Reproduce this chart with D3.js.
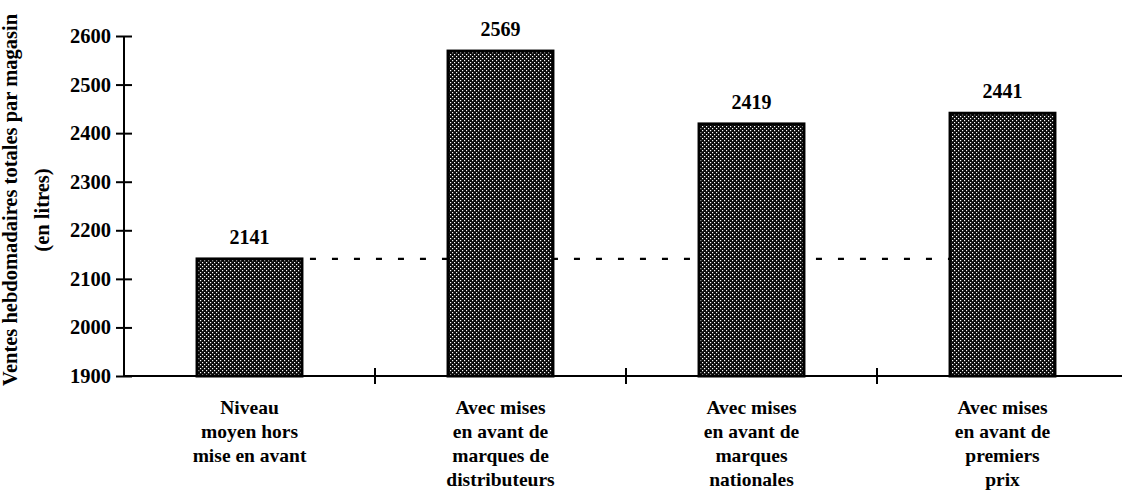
<!DOCTYPE html>
<html>
<head>
<meta charset="utf-8">
<script src="https://cdn.jsdelivr.net/npm/d3@7"></script>
<style>
  html, body { margin: 0; padding: 0; background: #fff; }
  svg { display: block; }
</style>
</head>
<body>
<svg id="chart" width="1122" height="496"></svg>
<script>
// Weekly sales per store (litres) under each promotion scenario
const categories = [
  ["Niveau", "moyen hors", "mise en avant"],
  ["Avec mises", "en avant de", "marques de", "distributeurs"],
  ["Avec mises", "en avant de", "marques", "nationales"],
  ["Avec mises", "en avant de", "premiers", "prix"]
];
const values = [2141, 2569, 2419, 2441];
const yTicks = [1900, 2000, 2100, 2200, 2300, 2400, 2500, 2600];
const baselineValue = values[0];
const yTitle = ["Ventes hebdomadaires totales par magasin", "(en litres)"];

const FONT = "'Liberation Serif', 'Times New Roman', Times, serif";

const svg = d3.select("#chart");
const plotLeft = 124, plotRight = 1128, plotTop = 36, plotBottom = 376;

const keys = categories.map((c, i) => "c" + i);
const x = d3.scaleBand().domain(keys).range([plotLeft, plotRight]).padding(0);
const y = d3.scaleLinear().domain([1900, 2600]).range([plotBottom, plotTop]);
const barW = x.bandwidth() * 0.418;

function label(sel, size) {
  return sel.style("font-family", FONT).style("font-weight", "bold")
    .style("font-size", size + "px").attr("fill", "#000");
}

// dotted screen fill for bars
const defs = svg.append("defs");
const pat = defs.append("pattern")
  .attr("id", "screen")
  .attr("patternUnits", "userSpaceOnUse")
  .attr("width", 4).attr("height", 4);
pat.append("rect").attr("width", 4).attr("height", 4).attr("fill", "#0a0a0a");
pat.append("rect").attr("x", 0).attr("y", 0).attr("width", 1.2).attr("height", 1.2).attr("fill", "#fff");
pat.append("rect").attr("x", 2).attr("y", 2).attr("width", 1.2).attr("height", 1.2).attr("fill", "#fff");

// reference level (no promotion) drawn behind the bars
svg.append("line")
  .attr("x1", x(keys[0]) + x.bandwidth() / 2 + barW / 2 + 8)
  .attr("x2", x(keys[3]) + x.bandwidth() / 2 - barW / 2)
  .attr("y1", y(baselineValue)).attr("y2", y(baselineValue))
  .attr("stroke", "#000").attr("stroke-width", 2.2)
  .attr("stroke-dasharray", "6,16");

// bars
svg.selectAll("rect.bar").data(values).join("rect")
  .attr("class", "bar")
  .attr("x", (d, i) => x(keys[i]) + x.bandwidth() / 2 - barW / 2)
  .attr("y", d => y(d))
  .attr("width", barW)
  .attr("height", d => y(1900) - y(d))
  .attr("fill", "url(#screen)")
  .attr("stroke", "#000").attr("stroke-width", 3);

// value labels
svg.selectAll("text.val").data(values).join("text")
  .attr("class", "val")
  .attr("x", (d, i) => x(keys[i]) + x.bandwidth() / 2)
  .attr("y", d => y(d) - 15)
  .attr("text-anchor", "middle")
  .text(d => d)
  .call(label, 20);

// y axis
const yAxis = d3.axisLeft(y).tickValues(yTicks).tickFormat(d3.format("d")).tickSize(0).tickPadding(13);
const gy = svg.append("g").attr("transform", `translate(${plotLeft},0)`).call(yAxis);
gy.select(".domain").remove();
gy.selectAll(".tick text").call(label, 20.5);
gy.selectAll(".tick").append("line")
  .attr("x1", -8).attr("x2", 8).attr("stroke", "#000").attr("stroke-width", 2);
svg.append("line").attr("x1", plotLeft).attr("x2", plotLeft).attr("y1", plotTop).attr("y2", plotBottom)
  .attr("stroke", "#000").attr("stroke-width", 2);

// x axis with separators between categories
svg.append("line").attr("x1", plotLeft).attr("x2", plotRight).attr("y1", plotBottom).attr("y2", plotBottom)
  .attr("stroke", "#000").attr("stroke-width", 2);
svg.selectAll("line.sep").data(keys.slice(1)).join("line")
  .attr("class", "sep")
  .attr("x1", k => x(k)).attr("x2", k => x(k))
  .attr("y1", plotBottom - 8).attr("y2", plotBottom + 8)
  .attr("stroke", "#000").attr("stroke-width", 2);

// category labels
categories.forEach((lines, i) => {
  const cx = x(keys[i]) + x.bandwidth() / 2;
  const t = svg.append("text")
    .attr("x", cx)
    .attr("y", 414)
    .attr("text-anchor", "middle")
    .call(label, 19.5);
  lines.forEach((ln, j) => {
    t.append("tspan").attr("x", cx)
      .attr("dy", j === 0 ? 0 : 24).text(ln);
  });
});

// y axis title
svg.append("text")
  .attr("transform", "translate(17,200) rotate(-90)")
  .attr("text-anchor", "middle")
  .text(yTitle[0])
  .call(label, 20.5);
svg.append("text")
  .attr("transform", "translate(49,210) rotate(-90)")
  .attr("text-anchor", "middle")
  .text(yTitle[1])
  .call(label, 20.5);
</script>
</body>
</html>
